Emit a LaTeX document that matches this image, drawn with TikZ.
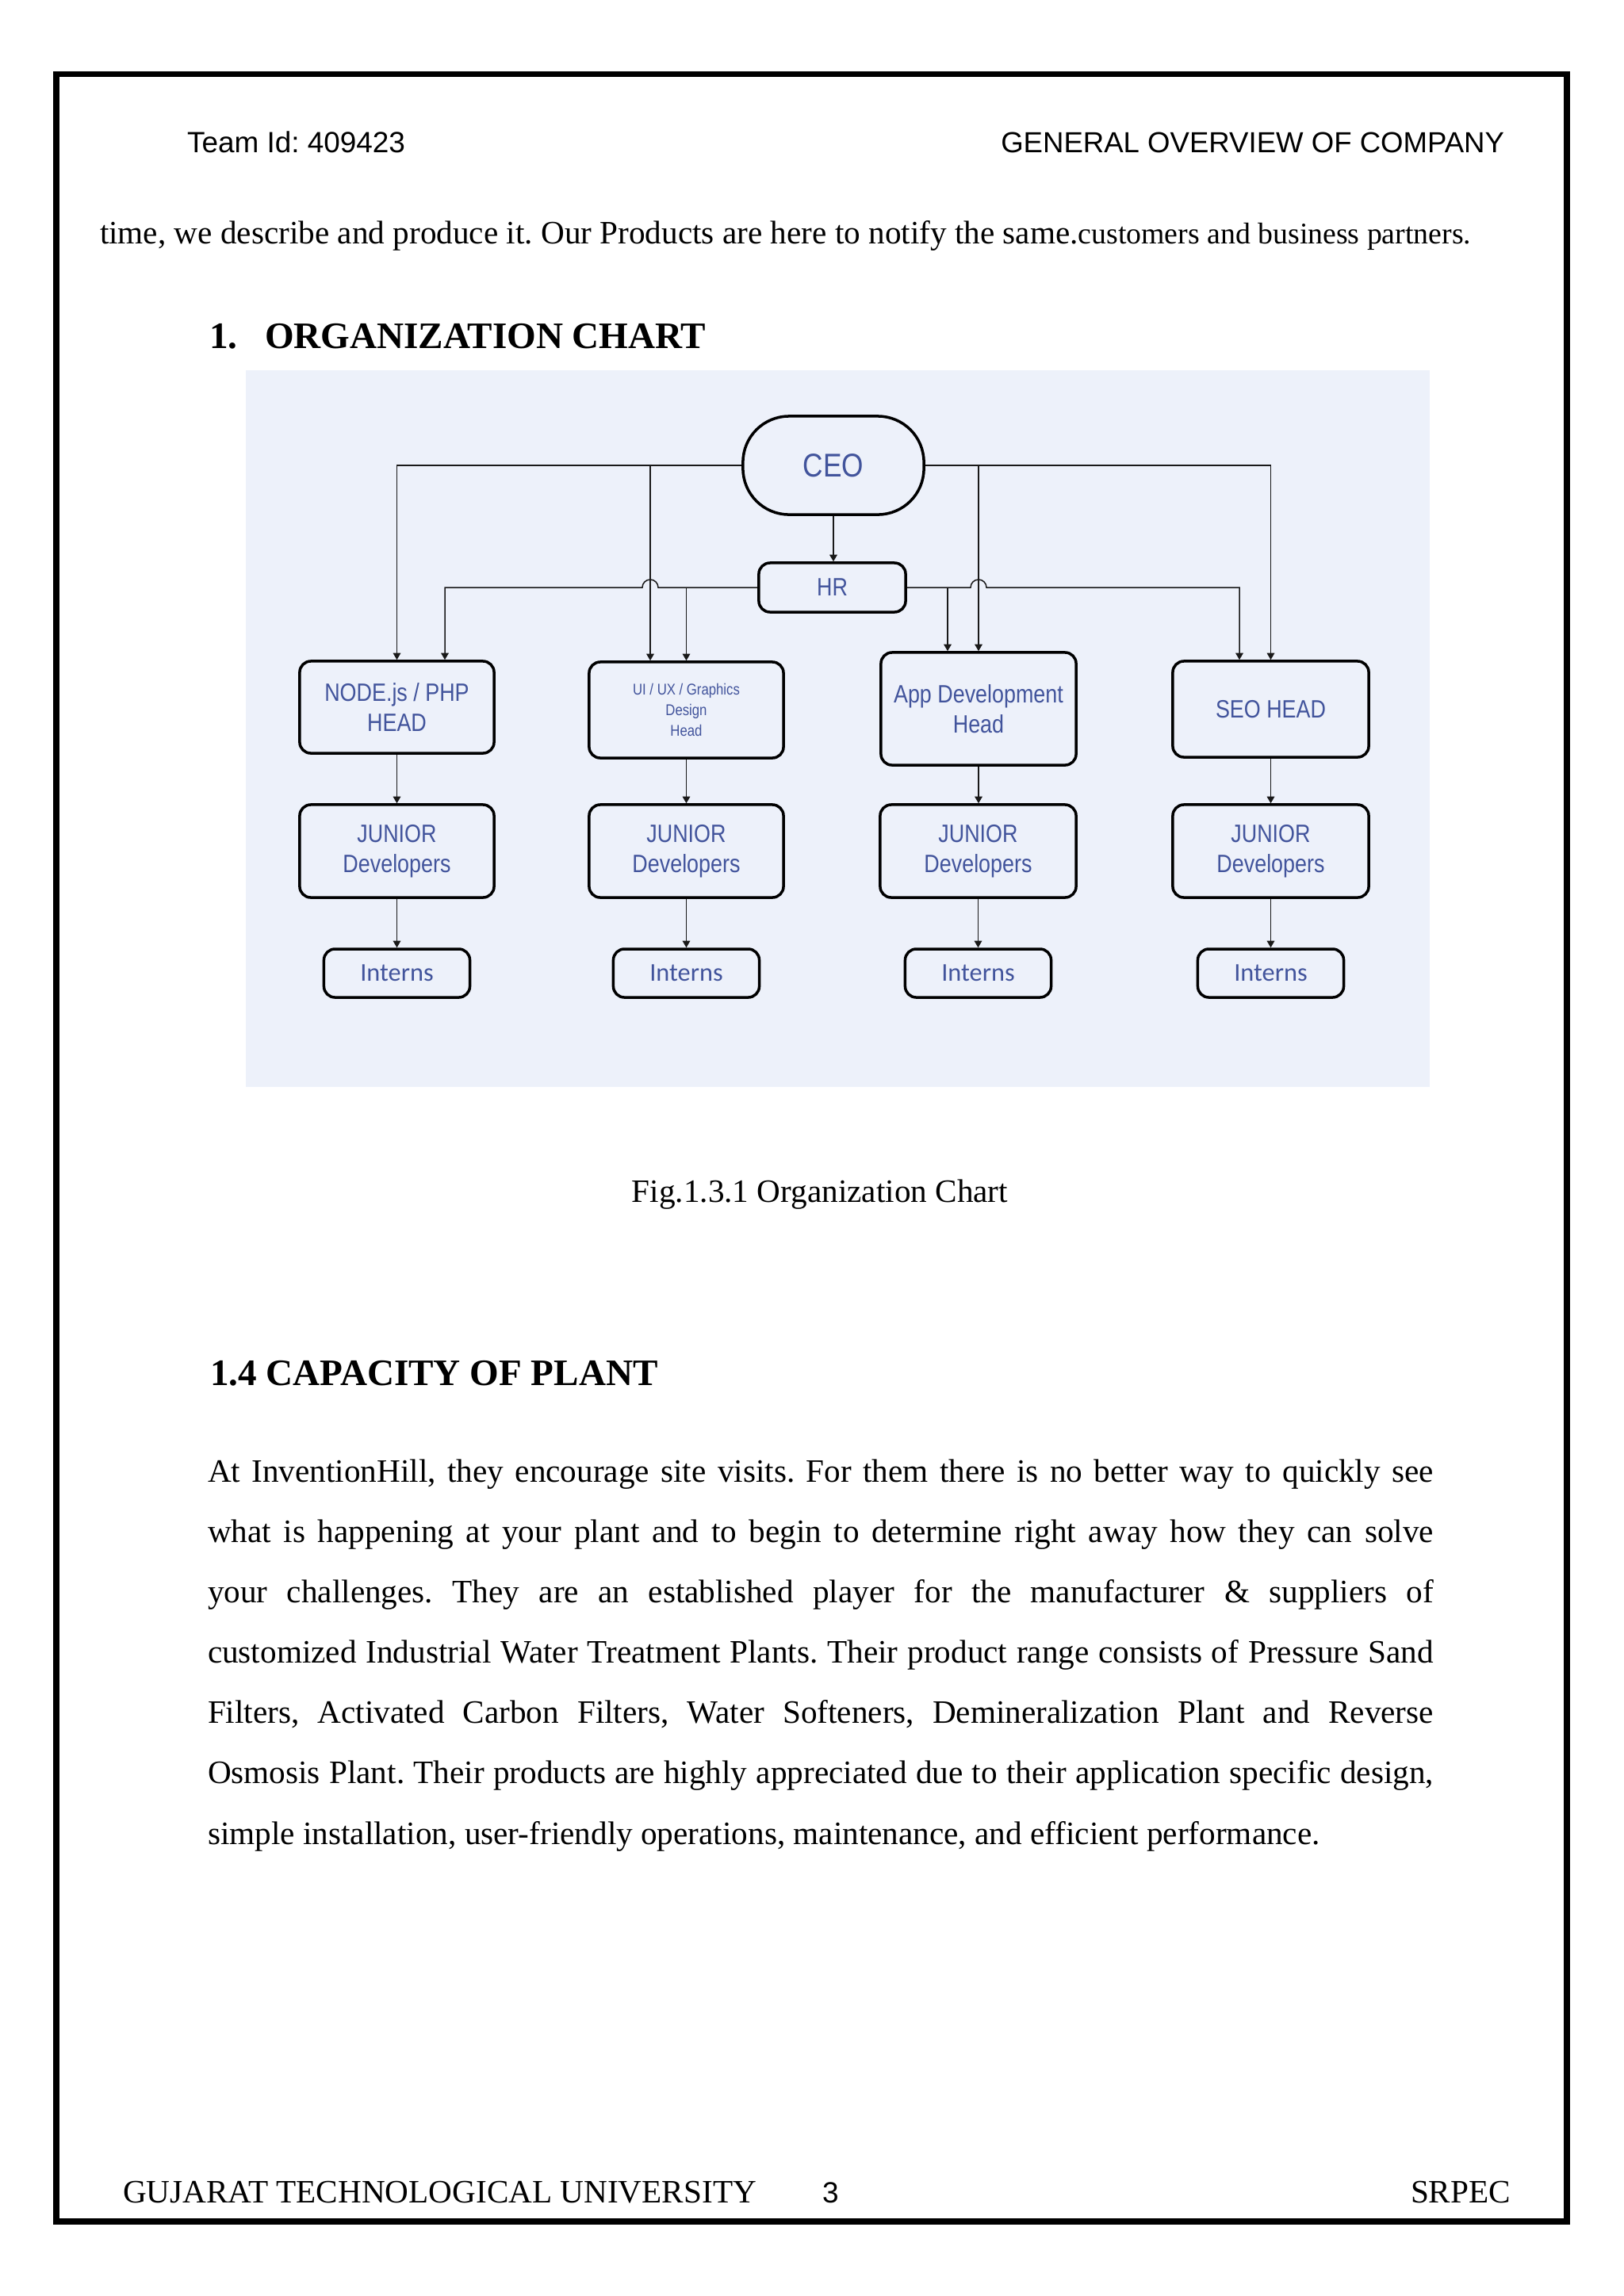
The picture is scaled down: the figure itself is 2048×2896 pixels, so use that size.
\documentclass[tikz,border=0pt]{standalone}
\usepackage{fontspec}
\setmainfont{Liberation Serif}
\setsansfont{Liberation Sans}
\newfontfamily\chartfont[FakeStretch=0.85]{Liberation Sans}
\newfontfamily\internfont{Carlito}
\usetikzlibrary{arrows.meta,calc}
\definecolor{chartbg}{RGB}{237,241,250}
\definecolor{boxtext}{RGB}{66,84,156}
\definecolor{linecol}{RGB}{25,25,25}
\frenchspacing
\newcommand\bodysize{\fontsize{11.72pt}{14pt}\selectfont}
\newcommand\smallbody{\fontsize{10.75pt}{13pt}\selectfont}
\newcommand\headsize{\fontsize{13.4pt}{16pt}\selectfont\bfseries}
\newcommand\hdrsize{\fontsize{10.5pt}{12pt}\selectfont\sffamily}
\tikzset{
  txt/.style={inner sep=0pt, outer sep=0pt},
  box/.style={draw=black, line width=0.035cm, rounded corners=0.14cm, fill=chartbg,
    inner sep=0pt, align=center, text=boxtext},
  headbox/.style={box, font=\chartfont\fontsize{9pt}{10.8pt}\selectfont},
  juniorbox/.style={box, minimum height=1.17cm, font=\chartfont\fontsize{9pt}{10.8pt}\selectfont},
  internbox/.style={box, minimum width=1.84cm, minimum height=0.61cm, font=\internfont\fontsize{9.2pt}{11pt}\selectfont},
  conn/.style={draw=linecol, line width=0.015cm, -{Triangle[length=0.085cm,width=0.095cm]}},
  justline/.style={txt, anchor=base west},
}
\newcommand\jl[1]{\makebox[15.45cm][s]{#1}}
\begin{document}
\begin{tikzpicture}[x=0.01cm,y=-0.01cm]
\useasboundingbox (0,0) rectangle (2048,2896);
\fill[white] (0,0) rectangle (2048,2896);
\draw[line width=0.075cm] (71,93.5) rectangle (1976,2802);

% header
\node[txt, anchor=base west, font=\hdrsize] (teamid) at (236,192) {Team Id: 409423};
\node[txt, anchor=base east, font=\fontsize{10.4pt}{12pt}\selectfont\sffamily] (overview) at (1897,192) {GENERAL OVERVIEW OF COMPANY};

% top line
\node[txt, anchor=base west, font=\bodysize] (topline) at (126,307)
  {time, we describe and produce it. Our Products are here to notify the same.{\smallbody customers and business partners.}};

% heading 1
\node[txt, anchor=base west, font=\headsize] (h1num) at (264,439) {1.};
\node[txt, anchor=base west, font=\headsize] (h1txt) at (334,439) {ORGANIZATION CHART};

% chart background
\fill[chartbg] (310,467) rectangle (1803,1371);

% nodes
\node[box, minimum width=2.28cm, minimum height=1.24cm, rounded corners=0.58cm,
  font=\chartfont\fontsize{11.8pt}{13pt}\selectfont] (ceo) at (1051,587) {CEO};
\node[box, minimum width=1.85cm, minimum height=0.62cm,
  font=\chartfont\fontsize{9pt}{10pt}\selectfont] (hr) at (1049.5,741) {HR};

\node[headbox, minimum width=2.45cm, minimum height=1.16cm] (h1) at (500.5,892) {NODE.js / PHP\\HEAD};
\node[box, minimum width=2.45cm, minimum height=1.21cm,
  font=\chartfont\fontsize{5.6pt}{7.5pt}\selectfont] (h2) at (865.5,895.5) {UI / UX / Graphics\\Design\\Head};
\node[headbox, minimum width=2.46cm, minimum height=1.42cm] (h3) at (1234,894) {App Development\\Head};
\node[headbox, minimum width=2.47cm, minimum height=1.21cm] (h4) at (1602.5,894.5) {SEO HEAD};

\node[juniorbox, minimum width=2.45cm] (j1) at (500.5,1073.5) {JUNIOR\\Developers};
\node[juniorbox, minimum width=2.45cm] (j2) at (865.5,1073.5) {JUNIOR\\Developers};
\node[juniorbox, minimum width=2.47cm] (j3) at (1233.5,1073.5) {JUNIOR\\Developers};
\node[juniorbox, minimum width=2.47cm] (j4) at (1602.5,1073.5) {JUNIOR\\Developers};

\node[internbox] (i1) at (500.5,1227.5) {Interns};
\node[internbox] (i2) at (865.5,1227.5) {Interns};
\node[internbox] (i3) at (1233.5,1227.5) {Interns};
\node[internbox] (i4) at (1602.5,1227.5) {Interns};

% branch positions
\coordinate (n1) at ($(h1.north)+(60.5,0)$);
\coordinate (u1) at ($(h2.north)+(-45.5,0)$);
\coordinate (a1) at ($(h3.north)+(-39,0)$);
\coordinate (s1) at ($(h4.north)+(-39.5,0)$);

% CEO connectors
\draw[conn] (ceo.west) -| (h1.north);
\draw[conn] (u1 |- ceo.west) -- (u1);
\draw[conn] (ceo.east) -| (h4.north);
\draw[conn] (h3.north |- ceo.east) -- (h3.north);
\draw[conn] (ceo.south) -- (ceo.south |- hr.north);

% HR connectors with jumps
\draw[conn] (hr.west) -- ($(u1 |- hr.west)+(10,0)$) arc[start angle=0, end angle=180, radius=0.1cm] -| (n1);
\draw[conn] (h2.north |- hr.west) -- (h2.north);
\draw[conn] (hr.east) -- ($(h3.north |- hr.east)+(-10,0)$) arc[start angle=180, end angle=0, radius=0.1cm] -| (s1);
\draw[conn] (a1 |- hr.east) -- (a1);

% vertical chains
\foreach \k in {1,2,3,4} {
  \draw[conn] (h\k.south) -- (h\k.south |- j\k.north);
  \draw[conn] (j\k.south) -- (j\k.south |- i\k.north);
}

% caption
\node[txt, anchor=base, font=\bodysize] (caption) at (1034,1516) {Fig.1.3.1 Organization Chart};

% heading 1.4
\node[txt, anchor=base west, font=\headsize] (h14) at (265,1747) {1.4 CAPACITY OF PLANT};

% paragraph
\node[justline, font=\bodysize] (p1) at (262,1869) {\jl{At InventionHill, they encourage site visits. For them there is no better way to quickly see}};
\node[justline, font=\bodysize] (p2) at (262,1945.2) {\jl{what is happening at your plant and to begin to determine right away how they can solve}};
\node[justline, font=\bodysize] (p3) at (262,2021.3) {\jl{your challenges. They are an established player for the manufacturer \& suppliers of}};
\node[justline, font=\bodysize] (p4) at (262,2097.5) {\jl{customized Industrial Water Treatment Plants. Their product range consists of Pressure Sand}};
\node[justline, font=\bodysize] (p5) at (262,2173.7) {\jl{Filters, Activated Carbon Filters, Water Softeners, Demineralization Plant and Reverse}};
\node[justline, font=\bodysize] (p6) at (262,2249.8) {\jl{Osmosis Plant. Their products are highly appreciated due to their application specific design,}};
\node[justline, font=\bodysize] (p7) at (262,2326) {simple installation, user-friendly operations, maintenance, and efficient performance.};

% footer
\node[txt, anchor=base west, font=\bodysize] (gtu) at (155,2778) {GUJARAT TECHNOLOGICAL UNIVERSITY};
\node[txt, anchor=base west, font=\hdrsize] (pageno) at (1037,2778) {3};
\node[txt, anchor=base east, font=\bodysize] (srpec) at (1905,2778) {SRPEC};
\end{tikzpicture}
\end{document}
